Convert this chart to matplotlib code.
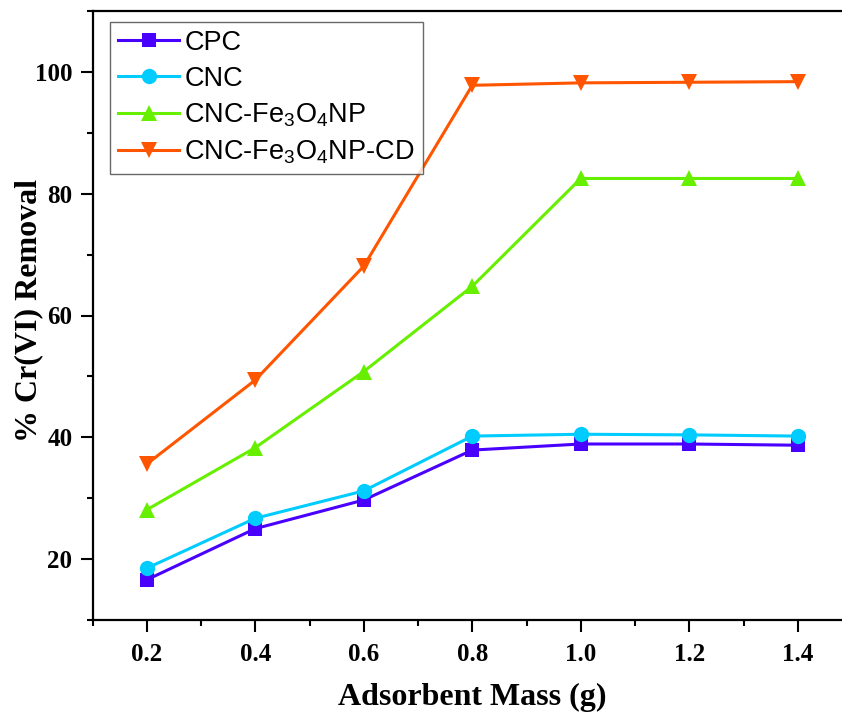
import matplotlib
matplotlib.use("Agg")
import matplotlib.pyplot as plt
from matplotlib.ticker import MultipleLocator

plt.rcParams['mathtext.default'] = 'regular'

# Adsorbent mass (g)
mass = [0.2, 0.4, 0.6, 0.8, 1.0, 1.2, 1.4]

# % Cr(VI) removal for each adsorbent
cpc = [16.6, 25.0, 29.7, 37.9, 38.9, 38.9, 38.7]
cnc = [18.5, 26.7, 31.2, 40.2, 40.5, 40.4, 40.2]
cnc_fe3o4 = [28.1, 38.3, 50.8, 64.8, 82.5, 82.5, 82.5]
cnc_fe3o4_cd = [35.6, 49.4, 68.1, 97.8, 98.2, 98.3, 98.4]

labels = ['CPC', 'CNC', 'CNC-Fe$_3$O$_4$NP', 'CNC-Fe$_3$O$_4$NP-CD']

fig = plt.figure(figsize=(8.42, 7.15), dpi=100)
ax = fig.add_axes([92.5 / 842, 95 / 715, (852 - 92.5) / 842, (620 - 11) / 715])

series = [
    (cpc, '#4A00FF', 's', 10),
    (cnc, '#00CCFF', 'o', 11),
    (cnc_fe3o4, '#66F000', '^', 12),
    (cnc_fe3o4_cd, '#FF5500', 'v', 12),
]
for (vals, color, marker, ms), label in zip(series, labels):
    ax.plot(mass, vals, color=color, marker=marker, markersize=ms, lw=2.2,
            markeredgewidth=0, label=label)

ax.set_xlim(0.1, 1.5)
ax.set_ylim(10, 110)
ax.xaxis.set_minor_locator(MultipleLocator(0.1))
ax.yaxis.set_minor_locator(MultipleLocator(10))
ax.set_xticks([0.2, 0.4, 0.6, 0.8, 1.0, 1.2, 1.4])
ax.set_xticklabels(['0.2', '0.4', '0.6', '0.8', '1.0', '1.2', '1.4'])
ax.set_yticks([20, 40, 60, 80, 100])
ax.set_yticklabels(['20', '40', '60', '80', '100'])

for s in ax.spines.values():
    s.set_linewidth(1.6)
ax.tick_params(which='major', direction='out', length=8.5, width=1.5)
ax.tick_params(which='minor', direction='out', length=4.5, width=1.5)
ax.tick_params(axis='x', which='major', pad=8)
ax.tick_params(axis='y', which='major', pad=6)

for lab in ax.get_xticklabels() + ax.get_yticklabels():
    lab.set_fontfamily('Liberation Serif')
    lab.set_fontweight('bold')
    lab.set_fontsize(18)

ax.set_xlabel('Adsorbent Mass (g)', fontfamily='Liberation Serif', fontweight='bold',
              fontsize=23, va='center')
ax.xaxis.set_label_coords(0.5, -0.127)
ax.set_ylabel('% Cr(VI) Removal', fontfamily='Liberation Serif', fontweight='bold',
              fontsize=23, va='center')
ax.yaxis.set_label_coords(-0.084, 0.508)

leg = ax.legend(loc='upper left', bbox_to_anchor=(0.023, 0.9824), borderaxespad=0,
                prop={'family': 'Liberation Sans', 'size': 19.5},
                frameon=True, fancybox=False, handlelength=2.25, handletextpad=0.2,
                labelspacing=0.36, borderpad=0.3)
leg.get_frame().set_edgecolor('#444444')
leg.get_frame().set_linewidth(1.0)

fig.savefig('out.png', dpi=100)
